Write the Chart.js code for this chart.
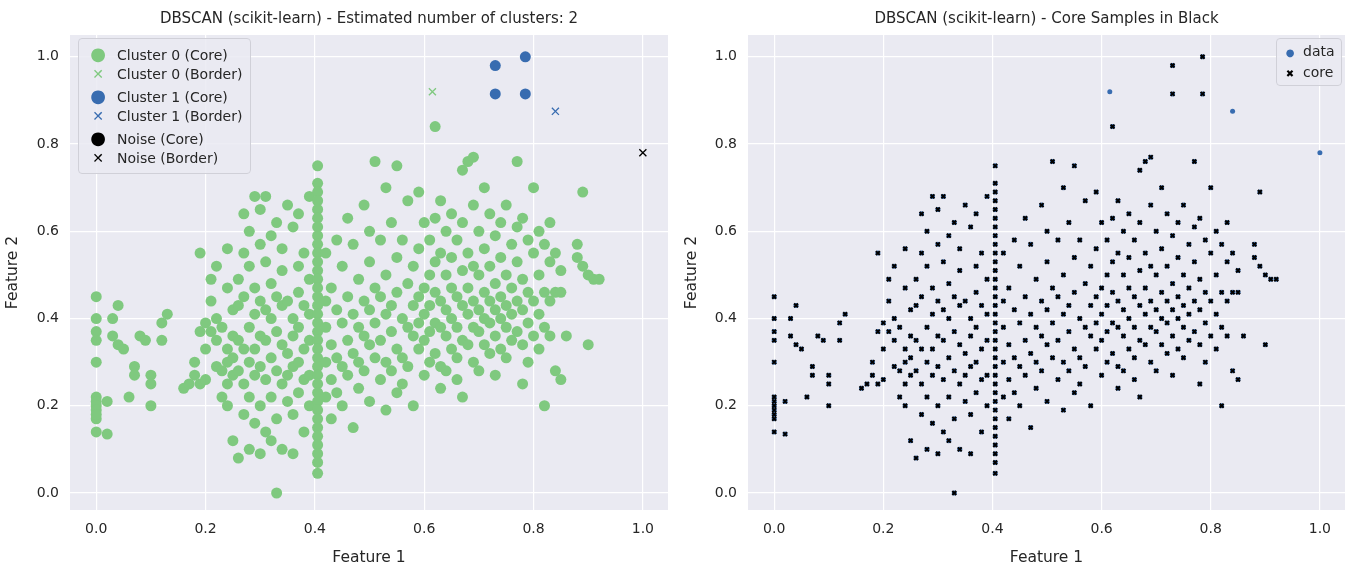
<!DOCTYPE html>
<html>
<head>
<meta charset="utf-8">
<script src="https://cdn.jsdelivr.net/npm/chart.js@4"></script>
<style>
  body { margin:0; background:#fff; font-family:"DejaVu Sans", sans-serif; }
  .panel { position:absolute; top:0; width:679px; height:571px; }
  .title { position:absolute; top:9px; font-size:15px; color:#262626; text-align:center; }
  .legend { position:absolute; background:rgba(234,234,242,0.85); border:1px solid #d0d0d8; border-radius:4px;
            font-size:14px; color:#262626; padding:4px 8px; }
  .legend div { height:21px; line-height:21px; white-space:nowrap; }
  .mk { display:inline-block; width:22px; text-align:center; margin-right:8px; }
</style>
</head>
<body>
<div class="panel" style="left:0"><canvas id="c1" width="679" height="571"></canvas></div>
<div class="panel" style="left:679px"><canvas id="c2" width="679" height="571"></canvas></div>
<div class="title" style="left:70px;width:598px">DBSCAN (scikit-learn) - Estimated number of clusters: 2</div>
<div class="title" style="left:748px;width:597px">DBSCAN (scikit-learn) - Core Samples in Black</div>
<div class="legend" style="left:78px;top:38px">
  <div><span class="mk" style="color:#7fc97f;font-size:18px">●</span>Cluster 0 (Core)</div>
  <div><span class="mk" style="color:#7fc97f">✕</span>Cluster 0 (Border)</div>
  <div><span class="mk" style="color:#386cb0;font-size:18px">●</span>Cluster 1 (Core)</div>
  <div><span class="mk" style="color:#386cb0">✕</span>Cluster 1 (Border)</div>
  <div><span class="mk" style="color:#000;font-size:18px">●</span>Noise (Core)</div>
  <div><span class="mk" style="color:#000">✕</span>Noise (Border)</div>
</div>
<div class="legend" style="left:1276px;top:38px;padding:2px 6px">
  <div><span class="mk" style="color:#386cb0;font-size:10px;width:14px;margin-right:6px">●</span>data</div>
  <div><span class="mk" style="color:#000;font-size:10px;width:14px;margin-right:6px">✖</span>core</div>
</div>
<script>
// cluster 0 core points, grouped by column: [x, y, y, ...]
const cluster0Cols = [
  [0.0, 0.45,0.40,0.37,0.35,0.30,0.22,0.21,0.20,0.19,0.17,0.14,0.18],
  [0.02, 0.21,0.135],[0.03, 0.36,0.40],[0.04, 0.34,0.43],[0.05, 0.33],[0.06, 0.22],
  [0.07, 0.29,0.27],[0.08, 0.36],[0.09, 0.35],[0.10, 0.25,0.27,0.20],[0.12, 0.35,0.39],[0.13, 0.41],
  [0.16, 0.24],[0.17, 0.25],[0.18, 0.27,0.30],[0.19, 0.55,0.25,0.37],[0.20, 0.39,0.33,0.26],
  [0.21, 0.44,0.49,0.37],[0.22, 0.52,0.40,0.35,0.29],[0.23, 0.38,0.28,0.22],
  [0.24, 0.56,0.47,0.33,0.30,0.25,0.20],[0.25, 0.42,0.36,0.31,0.27,0.12],[0.26, 0.49,0.43,0.35,0.28,0.08],
  [0.27, 0.64,0.55,0.45,0.33,0.25,0.18],[0.28, 0.60,0.52,0.38,0.30,0.22,0.10],[0.29, 0.68,0.47,0.41,0.33,0.27,0.16],
  [0.30, 0.65,0.57,0.44,0.36,0.29,0.20,0.09],[0.31, 0.68,0.53,0.42,0.35,0.26,0.14],[0.32, 0.59,0.48,0.40,0.31,0.22,0.12],
  [0.33, 0.62,0.45,0.37,0.28,0.0,0.17],[0.34, 0.56,0.51,0.43,0.34,0.25,0.10],[0.35, 0.66,0.44,0.32,0.27,0.21],
  [0.36, 0.61,0.40,0.36,0.29,0.09,0.18],[0.37, 0.64,0.52,0.46,0.38,0.30,0.23],[0.38, 0.55,0.43,0.33,0.26,0.14],
  [0.39, 0.68,0.49,0.41,0.35,0.27,0.20],
  [0.405, 0.75,0.71,0.69,0.67,0.65,0.63,0.61,0.59,0.57,0.55,0.53,0.51,0.49,0.47,0.45,0.43,0.41,0.39,0.37,0.35,0.33,0.31,0.29,0.27,0.25,0.23,0.21,0.19,0.17,0.15,0.13,0.11,0.09,0.07,0.045],
  [0.42, 0.55,0.44,0.38,0.30,0.22],[0.43, 0.47,0.34,0.26,0.17],[0.44, 0.58,0.42,0.31,0.23],[0.45, 0.52,0.39,0.29,0.20],
  [0.46, 0.63,0.45,0.35,0.27],[0.47, 0.57,0.41,0.32,0.15],[0.48, 0.49,0.38,0.30,0.24],[0.49, 0.66,0.44,0.36,0.28],
  [0.50, 0.60,0.53,0.42,0.34,0.21],[0.51, 0.76,0.47,0.39,0.31],[0.52, 0.58,0.45,0.35,0.26],[0.53, 0.70,0.50,0.41,0.30,0.19],
  [0.54, 0.62,0.43,0.37,0.28],[0.55, 0.75,0.54,0.46,0.33,0.23],[0.56, 0.58,0.40,0.31,0.25],[0.57, 0.67,0.48,0.38,0.29],
  [0.58, 0.52,0.43,0.36,0.20],[0.59, 0.69,0.56,0.45,0.39,0.33],[0.60, 0.62,0.47,0.41,0.35,0.27],[0.61, 0.58,0.50,0.43,0.37,0.30],
  [0.62, 0.84,0.63,0.53,0.46,0.39,0.32],[0.63, 0.67,0.55,0.44,0.38,0.29,0.24],[0.64, 0.60,0.50,0.42,0.36,0.28],
  [0.65, 0.64,0.54,0.47,0.40,0.33],[0.66, 0.58,0.45,0.38,0.31,0.26],[0.67, 0.74,0.62,0.51,0.43,0.35,0.22],
  [0.68, 0.76,0.55,0.47,0.41,0.34],[0.69, 0.77,0.66,0.52,0.44,0.38,0.30],[0.70, 0.60,0.50,0.42,0.37,0.28],
  [0.71, 0.70,0.56,0.46,0.40,0.34],[0.72, 0.64,0.52,0.44,0.39,0.32],[0.73, 0.59,0.48,0.42,0.36,0.27],
  [0.74, 0.62,0.54,0.45,0.40,0.33],[0.75, 0.66,0.50,0.43,0.38,0.31],[0.76, 0.57,0.47,0.41,0.35],
  [0.77, 0.76,0.61,0.53,0.44,0.37],[0.78, 0.63,0.49,0.42,0.34,0.25],[0.79, 0.58,0.46,0.39,0.30],[0.80, 0.70,0.55,0.44,0.36],
  [0.81, 0.60,0.50,0.41,0.33],[0.82, 0.57,0.46,0.38,0.20],[0.83, 0.62,0.53,0.44,0.36],[0.84, 0.55,0.46,0.28],
  [0.85, 0.51,0.46,0.26],[0.86, 0.36],[0.88, 0.57,0.54],[0.89, 0.69,0.52],[0.90, 0.34,0.50],[0.91, 0.49],[0.92, 0.49]
];
const cluster0Border = [[0.615, 0.92]];
const cluster1Core = [[0.73,0.98],[0.785,1.0],[0.73,0.915],[0.785,0.915]];
const cluster1Border = [[0.84, 0.875]];
const noiseBorder = [[1.0, 0.78]];
const tickValues = [0, 0.2, 0.4, 0.6, 0.8, 1.0];

const pts = arr => arr.map(p => ({x: p[0], y: p[1]}));
const c0core = [];
cluster0Cols.forEach(c => { for (let i = 1; i < c.length; i++) c0core.push({x: c[0], y: c[i]}); });
const corePts = c0core.concat(pts(cluster1Core));
const allPts = corePts.concat(pts(cluster0Border), pts(cluster1Border), pts(noiseBorder));

function makeScales(yw) {
  const common = {
    min: -0.048, max: 1.046,
    grid: { color: '#ffffff', lineWidth: 1.2 }, border: { display: false },
    ticks: { color: '#262626', font: { size: 14, family: 'DejaVu Sans' }, stepSize: 0.2,
             callback: v => (Math.abs(v - Math.round(v*5)/5) < 1e-6 ? v.toFixed(1) : '') },
    afterBuildTicks: s => { s.ticks = tickValues.map(v => ({value: v})); }
  };
  return {
    x: Object.assign({}, common, { type: 'linear',
        title: { display: true, text: 'Feature 1', color: '#262626', font: { size: 15.5, family: 'DejaVu Sans' }, padding: {top: 0} },
        afterFit: s => { s.height = 61; } }),
    y: Object.assign({}, common, { min: -0.039, max: 1.05,
        title: { display: true, text: 'Feature 2', color: '#262626', font: { size: 15.5, family: 'DejaVu Sans' } },
        afterFit: s => { s.width = yw; } })
  };
}

const bgPlugin = {
  id: 'bg',
  beforeDraw(chart) {
    const a = chart.chartArea, ctx = chart.ctx;
    ctx.save(); ctx.fillStyle = '#eaeaf2';
    ctx.fillRect(a.left, a.top, a.right - a.left, a.bottom - a.top); ctx.restore();
  }
};

const baseOpts = (yw, padRight) => ({
  responsive: false, animation: false,
  layout: { padding: { top: 35, right: padRight, left: 0, bottom: 0 } },
  plugins: { legend: { display: false }, tooltip: { enabled: false } },
  scales: makeScales(yw)
});

new Chart(document.getElementById('c1'), {
  type: 'scatter',
  data: { datasets: [
    { label: 'Cluster 0 (Core)', data: c0core, backgroundColor: '#7fc97f', borderWidth: 0, pointRadius: 5.5 },
    { label: 'Cluster 0 (Border)', data: pts(cluster0Border), pointStyle: 'crossRot', borderColor: '#7fc97f', borderWidth: 1.3, pointRadius: 5 },
    { label: 'Cluster 1 (Core)', data: pts(cluster1Core), backgroundColor: '#386cb0', borderWidth: 0, pointRadius: 5.5 },
    { label: 'Cluster 1 (Border)', data: pts(cluster1Border), pointStyle: 'crossRot', borderColor: '#386cb0', borderWidth: 1.3, pointRadius: 5 },
    { label: 'Noise (Border)', data: pts(noiseBorder), pointStyle: 'crossRot', borderColor: '#000', borderWidth: 1.3, pointRadius: 5 }
  ]},
  options: baseOpts(70, 11),
  plugins: [bgPlugin]
});

new Chart(document.getElementById('c2'), {
  type: 'scatter',
  data: { datasets: [
    { label: 'data', data: allPts, backgroundColor: '#386cb0', borderWidth: 0, pointRadius: 2.5, order: 2 },
    { label: 'core', data: corePts, pointStyle: 'crossRot', borderColor: '#000', borderWidth: 2, pointRadius: 2.8, order: 1 }
  ]},
  options: baseOpts(69, 13),
  plugins: [bgPlugin]
});
</script>
</body>
</html>
